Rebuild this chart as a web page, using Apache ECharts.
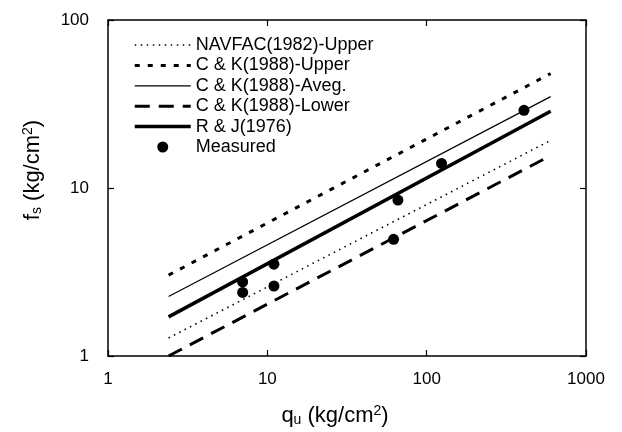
<!DOCTYPE html>
<html><head><meta charset="utf-8">
<script src="https://cdn.jsdelivr.net/npm/echarts@6/dist/echarts.min.js"></script>
<style>html,body{margin:0;padding:0;background:#fff}#c{width:622px;height:432px}</style>
</head><body><div id="c"></div>
<script>
const xTicks = [1, 10, 100, 1000];
const yTicks = [1, 10, 100];
const lineX = [2.4, 600];
const navfacUpper = [1.28, 19.2];
const ckUpper = [3.03, 48];
const ckAveg = [2.26, 35];
const ckLower = [1.0, 15.6];
const rj = [1.71, 28.6];
const measuredX = [7, 7, 11, 11, 62, 66, 124, 408];
const measuredY = [2.76, 2.39, 3.52, 2.61, 4.95, 8.47, 14.0, 29.0];

const names = ['NAVFAC(1982)-Upper','C & K(1988)-Upper','C & K(1988)-Aveg.','C & K(1988)-Lower','R & J(1976)','Measured'];
const FONT = 'Liberation Sans, Arial, sans-serif';
const pair = (ys) => lineX.map((x, i) => [x, ys[i]]);

const lineStyles = [
  {color: '#000', width: 1.6, type: [1.5, 4.5]},
  {color: '#000', width: 3, type: [5, 8]},
  {color: '#000', width: 1.2, type: 'solid'},
  {color: '#000', width: 3, type: [15, 9]},
  {color: '#000', width: 3.5, type: 'solid'}
];

const chart = echarts.init(document.getElementById('c'), null, {renderer: 'canvas'});
const axisCommon = {
  type: 'log', logBase: 10,
  axisLine: {show: true, lineStyle: {color: '#000', width: 1.5}},
  axisTick: {show: true, inside: true, length: 6, lineStyle: {color: '#000', width: 1.2}},
  minorTick: {show: false},
  splitLine: {show: false}
};
const rich = {
  b: {fontSize: 22, fontFamily: FONT, color: '#000', lineHeight: 28, verticalAlign: 'bottom'},
  s: {fontSize: 14, fontFamily: FONT, color: '#000', lineHeight: 10, verticalAlign: 'bottom'},
  p: {fontSize: 14, fontFamily: FONT, color: '#000', lineHeight: 18, verticalAlign: 'top', padding: [5, 0, 0, 0]}
};
chart.setOption({
  animation: false,
  backgroundColor: '#fff',
  color: ['#000'],
  grid: {left: 108, right: 36, top: 20, bottom: 75},
  legend: {
    orient: 'vertical', left: 128, top: 31,
    itemWidth: 56, itemHeight: 11, itemGap: 2.4,
    textStyle: {fontSize: 18, fontFamily: FONT, color: '#000'},
    data: names.map((n, i) => n === 'Measured'
      ? {name: n, icon: 'circle', itemStyle: {color: '#000', opacity: 1}}
      : {name: n, itemStyle: {opacity: 0}, lineStyle: lineStyles[i]})
  },
  xAxis: [
    Object.assign({}, axisCommon, {
      position: 'bottom', min: 1, max: 1000,
      axisLabel: {fontSize: 17, fontFamily: FONT, color: '#000', margin: 15, formatter: v => String(v)},
      name: '{b|q}{s|u}{b| (kg/cm}{p|2}{b|)}', nameLocation: 'middle', nameGap: 43,
      nameTextStyle: {rich: rich, padding: [0, 24, 0, 0]}
    }),
    Object.assign({}, axisCommon, {position: 'top', min: 1, max: 1000, axisLabel: {show: false}})
  ],
  yAxis: [
    Object.assign({}, axisCommon, {
      position: 'left', min: 1, max: 100,
      axisLabel: {fontSize: 17, fontFamily: FONT, color: '#000', margin: 19, formatter: v => String(v)},
      name: '{b|f}{s|s}{b| (kg/cm}{p|2}{b|)}', nameLocation: 'middle', nameGap: 64, nameRotate: 90,
      nameTextStyle: {rich: rich, padding: [0, 0, 0, 36]}
    }),
    Object.assign({}, axisCommon, {position: 'right', min: 1, max: 100, axisLabel: {show: false}})
  ],
  series: [
    {name: names[0], type: 'line', symbol: 'none', color: '#000', data: pair(navfacUpper), lineStyle: lineStyles[0]},
    {name: names[1], type: 'line', symbol: 'none', color: '#000', data: pair(ckUpper), lineStyle: lineStyles[1]},
    {name: names[2], type: 'line', symbol: 'none', color: '#000', data: pair(ckAveg), lineStyle: lineStyles[2]},
    {name: names[3], type: 'line', symbol: 'none', color: '#000', data: pair(ckLower), lineStyle: lineStyles[3]},
    {name: names[4], type: 'line', symbol: 'none', color: '#000', data: pair(rj), lineStyle: lineStyles[4]},
    {name: names[5], type: 'scatter', symbol: 'circle', symbolSize: 11,
     itemStyle: {color: '#000', opacity: 1}, data: measuredX.map((x, i) => [x, measuredY[i]]), z: 5}
  ]
});
</script></body></html>
